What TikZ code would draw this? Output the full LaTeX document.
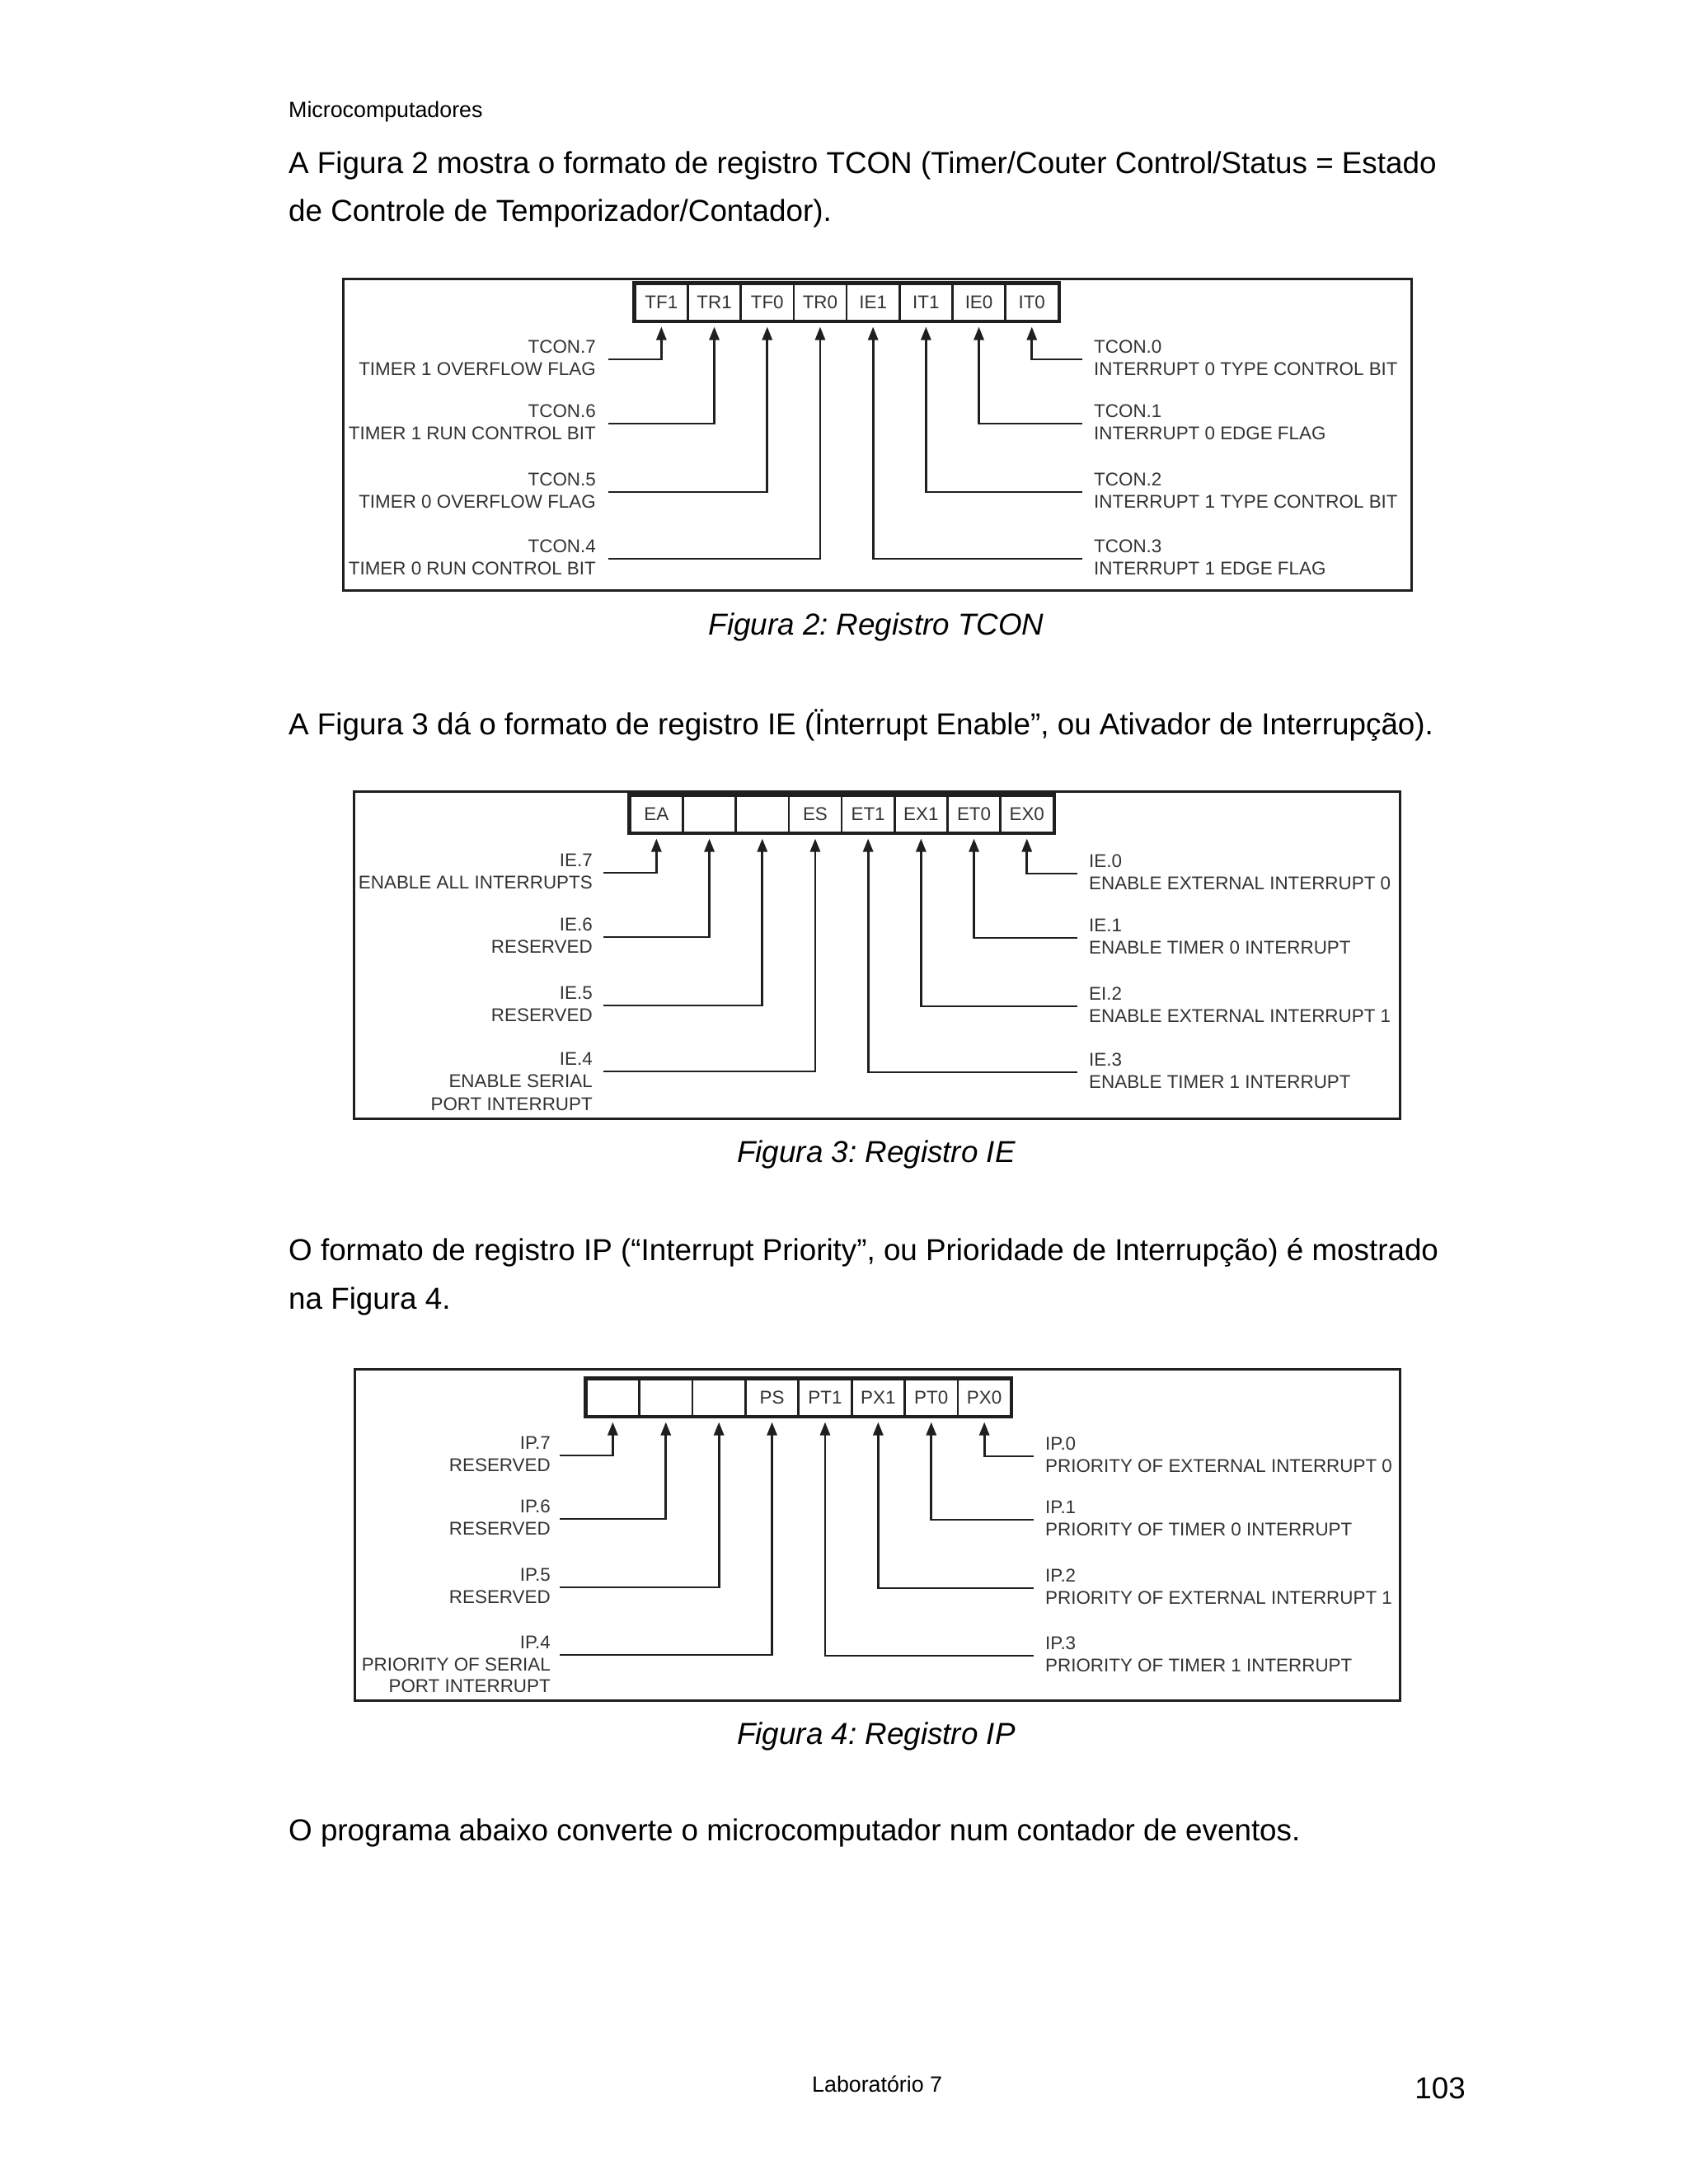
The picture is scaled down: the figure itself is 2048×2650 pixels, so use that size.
\documentclass[tikz,border=0pt]{standalone}
\usepackage{fontspec}
\setmainfont{Liberation Sans}
\usetikzlibrary{arrows.meta}
\definecolor{ink}{rgb}{0.12,0.12,0.12}
\definecolor{lbl}{rgb}{0.2,0.2,0.2}
\frenchspacing
\begin{document}
\begin{tikzpicture}[x=1pt,y=-1pt,
  body/.style={anchor=base west, inner sep=0pt, font=\fontsize{36.8}{44}\selectfont},
  small/.style={anchor=base west, inner sep=0pt, font=\fontsize{26.8}{32}\selectfont},
  capt/.style={anchor=base, inner sep=0pt, font=\fontsize{36.8}{44}\selectfont\itshape},
  lab/.style={inner sep=0pt, text=lbl, font=\fontsize{22.4}{28}\selectfont},
  labL/.style={lab, anchor=base east},
  labR/.style={lab, anchor=base west},
  frame/.style={draw=ink, line width=3pt},
  cell/.style={draw=ink, line width=2.5pt, minimum width=64.2pt, minimum height=45pt,
    inner sep=0pt, anchor=north west, text=lbl, font=\fontsize{22.4}{22}\selectfont},
  regbox/.style={draw=ink, line width=3.5pt},
  conn/.style={draw=ink, line width=2.8pt, shorten >=6pt, -{Triangle[length=16pt,width=12pt]}},
]
\useasboundingbox (0,0) rectangle (2048,2650);
\fill[white] (0,0) rectangle (2048,2650);

% page text
\node[small] (hdr) at (350,142) {Microcomputadores};
\node[body] (p1a) at (350,210) {A Figura 2 mostra o formato de registro TCON (Timer/Couter Control/Status = Estado};
\node[body] (p1b) at (350,268) {de Controle de Temporizador/Contador).};

% ---------------- Figure 2: TCON
\draw[frame] (416,338) rectangle (1712,716);
\foreach \t [count=\i from 0] in {TF1,TR1,TF0,TR0,IE1,IT1,IE0,IT0}
  \node[cell] (a\i) at ({769+64.2*\i},343) {\t};
\draw[regbox] (a0.north west) rectangle (a7.south east);
\foreach \lv/\n/\d/\c [count=\k from 0] in {
  436/TCON.7/TIMER 1 OVERFLOW FLAG/0,
  514/TCON.6/TIMER 1 RUN CONTROL BIT/1,
  597/TCON.5/TIMER 0 OVERFLOW FLAG/2,
  678/TCON.4/TIMER 0 RUN CONTROL BIT/3}{
  \node[labL] (aL\k) at (723,\lv-8) {\n};
  \node[labL] (aLd\k) at (723,\lv+19) {\d};
  \coordinate (aLs\k) at (738,\lv);
  \draw[conn] (aLs\k) -| (a\c.south);
}
\foreach \lv/\n/\d/\c [count=\k from 0] in {
  436/TCON.0/INTERRUPT 0 TYPE CONTROL BIT/7,
  514/TCON.1/INTERRUPT 0 EDGE FLAG/6,
  597/TCON.2/INTERRUPT 1 TYPE CONTROL BIT/5,
  678/TCON.3/INTERRUPT 1 EDGE FLAG/4}{
  \node[labR] (aR\k) at (1327,\lv-8) {\n};
  \node[labR] (aRd\k) at (1327,\lv+19) {\d};
  \coordinate (aRs\k) at (1313,\lv);
  \draw[conn] (aRs\k) -| (a\c.south);
}
\node[capt] (cap2) at (1063,770) {Figura 2: Registro TCON};

\node[body] (p2) at (350,891) {A Figura 3 dá o formato de registro IE (Ïnterrupt Enable”, ou Ativador de Interrupção).};

% ---------------- Figure 3: IE
\draw[frame] (429,960) rectangle (1698,1357);
\foreach \t [count=\i from 0] in {EA,{},{},ES,ET1,EX1,ET0,EX0}
  \node[cell] (b\i) at ({763+64.2*\i},964) {\t};
\draw[regbox] (b0.north west) rectangle (b7.south east);
\foreach \lv/\n/\d/\c [count=\k from 0] in {
  1059/IE.7/ENABLE ALL INTERRUPTS/0,
  1137/IE.6/RESERVED/1,
  1220/IE.5/RESERVED/2,
  1300/IE.4/ENABLE SERIAL/3}{
  \node[labL] (bL\k) at (719,\lv-8) {\n};
  \node[labL] (bLd\k) at (719,\lv+19) {\d};
  \coordinate (bLs\k) at (732,\lv);
  \draw[conn] (bLs\k) -| (b\c.south);
}
\node[labL] (bLe3) at (719,1347) {PORT INTERRUPT};
\foreach \lv/\n/\d/\c [count=\k from 0] in {
  1060/IE.0/ENABLE EXTERNAL INTERRUPT 0/7,
  1138/IE.1/ENABLE TIMER 0 INTERRUPT/6,
  1221/EI.2/ENABLE EXTERNAL INTERRUPT 1/5,
  1301/IE.3/ENABLE TIMER 1 INTERRUPT/4}{
  \node[labR] (bR\k) at (1321,\lv-8) {\n};
  \node[labR] (bRd\k) at (1321,\lv+19) {\d};
  \coordinate (bRs\k) at (1307,\lv);
  \draw[conn] (bRs\k) -| (b\c.south);
}
\node[capt] (cap3) at (1063,1410) {Figura 3: Registro IE};

\node[body] (p3a) at (350,1529) {O formato de registro IP (“Interrupt Priority”, ou Prioridade de Interrupção) é mostrado};
\node[body] (p3b) at (350,1588) {na Figura 4.};

% ---------------- Figure 4: IP
\draw[frame] (430,1661) rectangle (1698,2063);
\foreach \t [count=\i from 0] in {{},{},{},PS,PT1,PX1,PT0,PX0}
  \node[cell] (c\i) at ({710+64.4*\i},1672) {\t};
\draw[regbox] (c0.north west) rectangle (c7.south east);
\foreach \lv/\n/\d/\c [count=\k from 0] in {
  1766/IP.7/RESERVED/0,
  1843/IP.6/RESERVED/1,
  1926/IP.5/RESERVED/2,
  2008/IP.4/PRIORITY OF SERIAL/3}{
  \node[labL] (cL\k) at (668,\lv-8) {\n};
  \node[labL] (cLd\k) at (668,\lv+19) {\d};
  \coordinate (cLs\k) at (679,\lv);
  \draw[conn] (cLs\k) -| (c\c.south);
}
\node[labL] (cLe3) at (668,2053) {PORT INTERRUPT};
\foreach \lv/\n/\d/\c [count=\k from 0] in {
  1767/IP.0/PRIORITY OF EXTERNAL INTERRUPT 0/7,
  1844/IP.1/PRIORITY OF TIMER 0 INTERRUPT/6,
  1927/IP.2/PRIORITY OF EXTERNAL INTERRUPT 1/5,
  2009/IP.3/PRIORITY OF TIMER 1 INTERRUPT/4}{
  \node[labR] (cR\k) at (1268,\lv-8) {\n};
  \node[labR] (cRd\k) at (1268,\lv+19) {\d};
  \coordinate (cRs\k) at (1254,\lv);
  \draw[conn] (cRs\k) -| (c\c.south);
}
\node[capt] (cap4) at (1063,2116) {Figura 4: Registro IP};

\node[body] (p4) at (350,2233) {O programa abaixo converte o microcomputador num contador de eventos.};

% footer
\node[small] (ft) at (985,2538) {Laboratório 7};
\node[body, anchor=base east] (pg) at (1778,2546) {103};
\end{tikzpicture}
\end{document}
